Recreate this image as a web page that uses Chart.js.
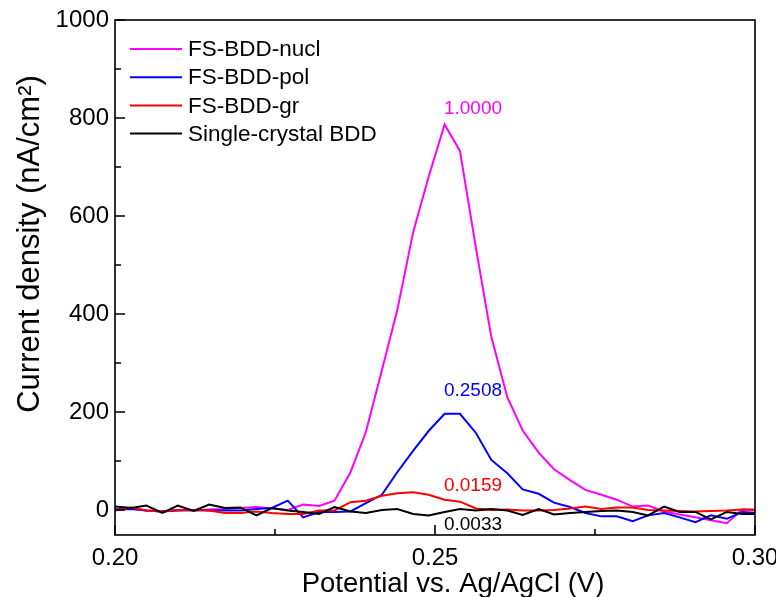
<!DOCTYPE html>
<html>
<head>
<meta charset="utf-8">
<script src="https://cdn.jsdelivr.net/npm/chart.js@4.4.1/dist/chart.umd.min.js"></script>
<style>
    html, body {margin: 0; padding: 0; background: #fff;}
    canvas {display: block;}
</style>
</head>
<body>
<canvas id="chart" width="776" height="597"></canvas>
<script>
// potential (V) of each sample
const potentials = [0.2000, 0.2025, 0.2049, 0.2074, 0.2098, 0.2123, 0.2147, 0.2172, 0.2196, 0.2221,
    0.2245, 0.2270, 0.2294, 0.2319, 0.2343, 0.2368, 0.2392, 0.2417, 0.2441, 0.2466,
    0.2490, 0.2515, 0.2539, 0.2564, 0.2588, 0.2613, 0.2637, 0.2662, 0.2686, 0.2711,
    0.2735, 0.2760, 0.2784, 0.2809, 0.2833, 0.2858, 0.2882, 0.2907, 0.2931, 0.2956,
    0.2980, 0.3005];

// current density (nA/cm2)
const nucl = [2, 4, 0, -2, 1, 0, 2, 3, 5, 7, 4, 1, 12, 9, 20, 78, 160, 286, 408, 568,
    680, 787, 733, 535, 354, 231, 163, 118, 84, 62, 42, 32, 22, 8, 10, -2, -8, -14, -20, -26,
    2, 2];
const pol = [2, 3, 0, -2, 0, 1, 0, 0, 0, 3, 5, 20, -14, -3, -3, -2, 15, 32, 78, 122,
    162, 197, 197, 158, 103, 76, 43, 34, 16, 7, -5, -12, -12, -22, -10, -5, -14, -24, -10, -17,
    -3, -5];
const gr = [0, 6, 0, -2, 1, 1, 0, -5, -5, -2, -5, -7, -7, 0, 0, 17, 20, 30, 35, 37,
    32, 22, 18, 4, 1, 2, 0, 0, 1, 4, 8, 3, 6, 6, 1, 0, -1, -2, -1, 0,
    2, 1];
const single = [8, 5, 10, -5, 10, -1, 12, 5, 6, -10, 5, 0, -3, -7, 7, -2, -5, 1, 3, -7,
    -10, -3, 3, 0, 3, 0, -9, 3, -8, -5, -3, -1, 0, -3, -10, 8, -3, -3, -18, -3,
    -7, -7];

const seriesNames = ["FS-BDD-nucl", "FS-BDD-pol", "FS-BDD-gr", "Single-crystal BDD"];
const ratioLabels = ["1.0000", "0.2508", "0.0159", "0.0033"];

const xTicks = [0.20, 0.25, 0.30];
const xMinorTicks = [0.225, 0.275];
const yTicks = [0, 200, 400, 600, 800, 1000];
const yMinorTicks = [100, 300, 500, 700, 900];

const colors = ["#ff00ff", "#0000ff", "#ff0000", "#000000"];
const FONT = "'Liberation Sans', Arial, sans-serif";

function toPoints(values) {
    return values.map((v, i) => ({x: potentials[i], y: v}));
}

// frame + inward ticks
const framePlugin = {
    id: "frame",
    afterDraw(chart) {
        const {ctx, chartArea: a, scales} = chart;
        ctx.save();
        ctx.strokeStyle = "#000";
        ctx.lineWidth = 1.6;
        ctx.strokeRect(a.left, a.top, a.right - a.left, a.bottom - a.top);
        ctx.beginPath();
        xTicks.forEach(v => {
            let px = Math.round(scales.x.getPixelForValue(v));
            ctx.moveTo(px, a.bottom); ctx.lineTo(px, a.bottom - 10);
        });
        xMinorTicks.forEach(v => {
            let px = Math.round(scales.x.getPixelForValue(v));
            ctx.moveTo(px, a.bottom); ctx.lineTo(px, a.bottom - 6);
        });
        yTicks.forEach(v => {
            let py = Math.round(scales.y.getPixelForValue(v));
            ctx.moveTo(a.left, py); ctx.lineTo(a.left + 10, py);
        });
        yMinorTicks.forEach(v => {
            let py = Math.round(scales.y.getPixelForValue(v));
            ctx.moveTo(a.left, py); ctx.lineTo(a.left + 6, py);
        });
        ctx.stroke();
        ctx.restore();
    }
};

// legend, peak ratio labels and axis titles
const textPlugin = {
    id: "texts",
    afterDraw(chart) {
        const {ctx, chartArea: a, scales} = chart;
        ctx.save();

        seriesNames.forEach((name, i) => {
            let y = a.top + 29 + i * 28.2;
            ctx.strokeStyle = colors[i];
            ctx.lineWidth = 2;
            ctx.beginPath();
            ctx.moveTo(a.left + 15, y);
            ctx.lineTo(a.left + 67, y);
            ctx.stroke();
            ctx.fillStyle = "#000";
            ctx.font = "22.5px " + FONT;
            ctx.textAlign = "left";
            ctx.textBaseline = "middle";
            ctx.fillText(name, a.left + 73, y + 1);
        });

        // ratio labels sit next to the peak potential, just above each peak
        const peakX = scales.x.getPixelForValue(0.2514);
        const labelY = [820, 245, 50, -30];
        ctx.font = "19px " + FONT;
        ctx.textAlign = "left";
        ctx.textBaseline = "middle";
        ratioLabels.forEach((t, i) => {
            ctx.fillStyle = colors[i];
            ctx.fillText(t, peakX, scales.y.getPixelForValue(labelY[i]));
        });

        ctx.fillStyle = "#000";
        ctx.textAlign = "center";
        ctx.font = "27.5px " + FONT;
        ctx.fillText("Potential vs. Ag/AgCl (V)", 453, 584);

        ctx.translate(30, 244);
        ctx.rotate(-Math.PI / 2);
        ctx.font = "31px " + FONT;
        ctx.fillText("Current density (nA/cm\u00B2)", 0, 0);
        ctx.restore();
    }
};

const datasets = [nucl, pol, gr, single].map((vals, i) => ({
    label: seriesNames[i],
    data: toPoints(vals),
    borderColor: colors[i],
    backgroundColor: colors[i],
    borderWidth: 2,
    pointRadius: 0,
    tension: 0,
    clip: 0
}));

// draw black under the others
datasets.reverse();

new Chart(document.getElementById("chart").getContext("2d"), {
    type: "line",
    data: {datasets: datasets},
    options: {
        responsive: false,
        animation: false,
        layout: {padding: {top: 20, right: 21, left: 0, bottom: 0}},
        plugins: {legend: {display: false}, tooltip: {enabled: false}},
        scales: {
            x: {
                type: "linear",
                min: 0.20,
                max: 0.30,
                grid: {display: false, drawTicks: false},
                border: {display: false},
                afterBuildTicks: scale => { scale.ticks = xTicks.map(v => ({value: v})); },
                afterFit: scale => {
                    scale.height = 62;
                    scale.paddingLeft = 0;
                    scale.paddingRight = 0;
                },
                ticks: {
                    padding: 9,
                    color: "#000",
                    font: {family: FONT, size: 24},
                    maxRotation: 0,
                    callback: v => v.toFixed(2)
                }
            },
            y: {
                min: -50,
                max: 1000,
                grid: {display: false, drawTicks: false},
                border: {display: false},
                afterBuildTicks: scale => { scale.ticks = yTicks.map(v => ({value: v})); },
                afterFit: scale => {
                    scale.width = 115;
                    scale.paddingTop = 0;
                    scale.paddingBottom = 0;
                },
                ticks: {
                    padding: 6,
                    color: "#000",
                    font: {family: FONT, size: 24},
                    callback: v => String(v)
                }
            }
        }
    },
    plugins: [framePlugin, textPlugin]
});
</script>
</body>
</html>
